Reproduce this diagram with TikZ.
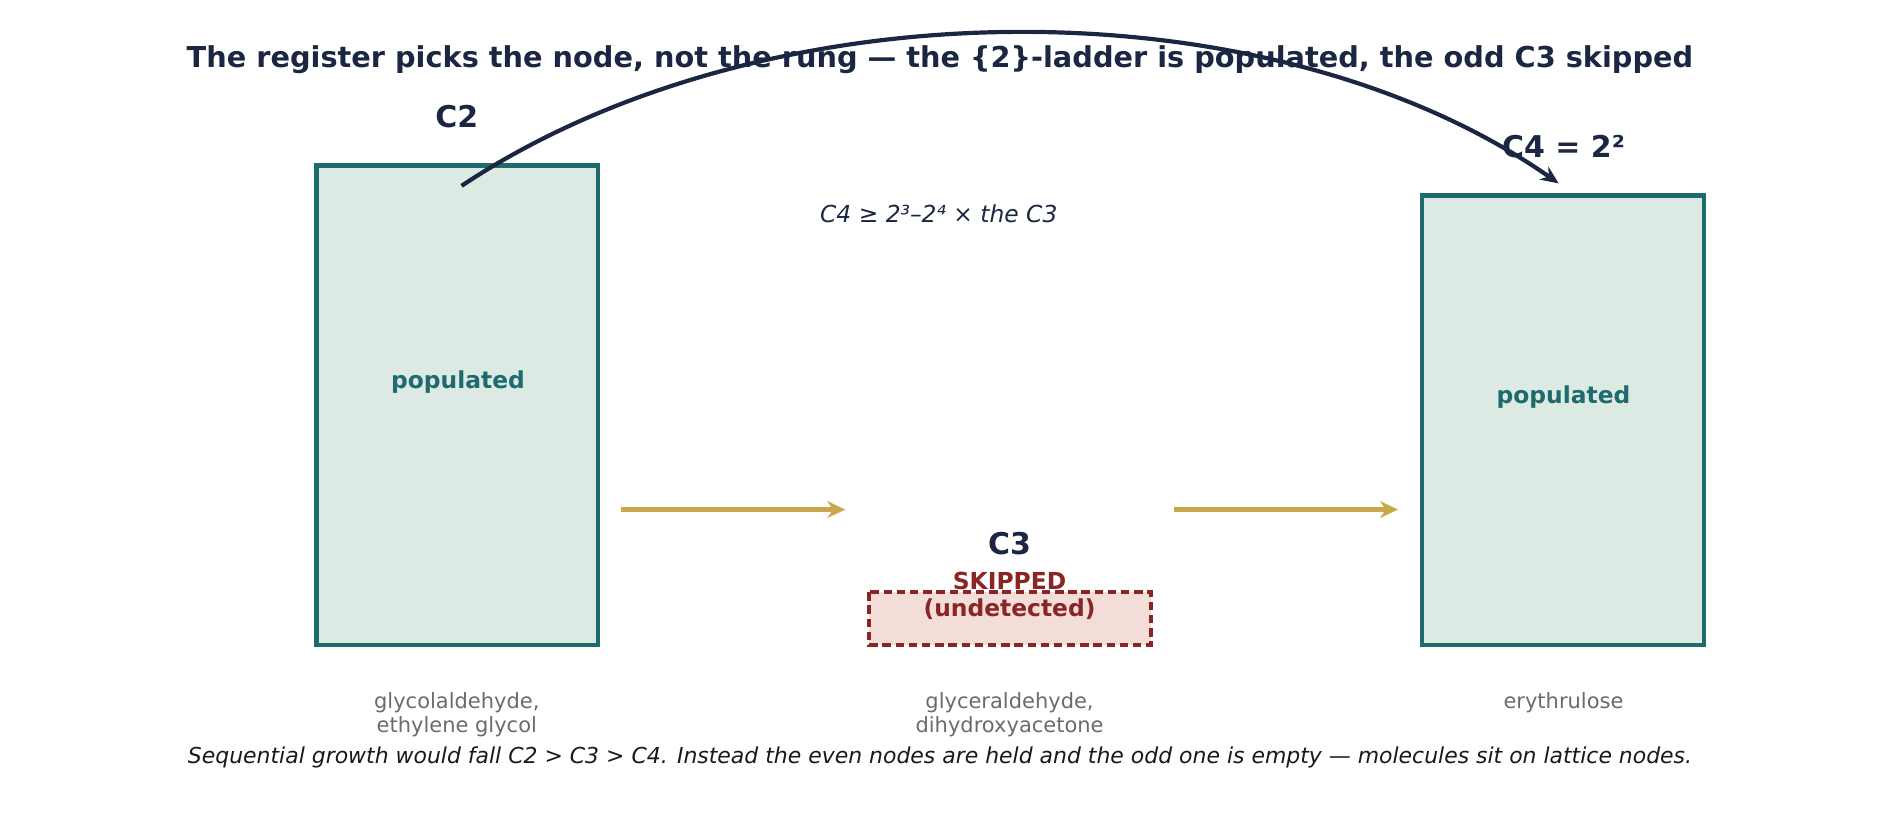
\documentclass[tikz,border=0pt]{standalone}
\usepackage{fontspec}
\setmainfont{DejaVu Sans}
\usetikzlibrary{arrows.meta}
\definecolor{navy}{HTML}{1B2742}
\definecolor{teal}{HTML}{1E6B6E}
\definecolor{boxfill}{HTML}{DDE9E3}
\definecolor{red}{HTML}{8B2525}
\definecolor{redfill}{HTML}{F2DDD8}
\definecolor{gold}{HTML}{C9A84C}
\definecolor{gray}{HTML}{6B6B6B}
\tikzset{
 big/.style={draw=teal,fill=boxfill,line width=3.5pt},
 skip/.style={draw=red,fill=redfill,line width=3pt,dash pattern=on 7pt off 4pt},
 lab/.style={font=\fontsize{25}{28}\selectfont\bfseries,text=navy},
 pop/.style={font=\fontsize{19.5}{22}\selectfont\bfseries,text=teal},
 mol/.style={font=\fontsize{17.5}{19.5}\selectfont,text=gray,align=center},
 flow/.style={draw=gold,line width=4pt,-{Stealth[length=15pt,width=14pt]}},
}
\begin{document}
\begin{tikzpicture}[x=1pt,y=-1pt]
\useasboundingbox (0,0) rectangle (1568,700);
\node[font=\fontsize{24}{28}\selectfont\bfseries,text=navy] (title) at (784,50) {The register picks the node, not the rung — the \{2\}-ladder is populated, the odd C3 skipped};
\draw[big] (264,138) rectangle (499,538);
\node[lab] (c2) at (381,97) {C2};
\node[pop] (p2) at (382,319) {populated};
\draw[big] (1186,163) rectangle (1421,538);
\node[lab] (c4) at (1304,122) {C4 = 2²};
\node[pop] (p4) at (1304,331) {populated};
\draw[skip] (725,494) rectangle (960,538);
\node[lab] (c3) at (842,453) {C3};
\node[font=\fontsize{19.5}{22}\selectfont\bfseries,text=red,align=center] (sk) at (842,497) {SKIPPED\\(undetected)};
\coordinate (a1) at (518,425); \coordinate (a2) at (705,425);
\coordinate (a3) at (979,425); \coordinate (a4) at (1166,425);
\draw[flow] (a1) -- (a2);
\draw[flow] (a3) -- (a4);
\coordinate (s) at (385,155); \coordinate (e) at (1300,153);
\draw[navy,line width=3.5pt,-{Stealth[length=15pt,width=13pt]}] (s) .. controls (640,-15) and (1060,-15) .. (e);
\node[font=\fontsize{19.5}{22}\selectfont\itshape,text=navy] (f) at (783,178) {C4 ≥ 2³–2⁴ × the C3};
\node[mol] (m2) at (381,596) {glycolaldehyde,\\ethylene glycol};
\node[mol] (m3) at (842,596) {glyceraldehyde,\\dihydroxyacetone};
\node[mol] (m4) at (1304,586) {erythrulose};
\node[font=\fontsize{18.3}{20}\selectfont\itshape,text=black!90] (cap) at (784,632) {Sequential growth would fall C2 > C3 > C4. Instead the even nodes are held and the odd one is empty — molecules sit on lattice nodes.};
\end{tikzpicture}
\end{document}
